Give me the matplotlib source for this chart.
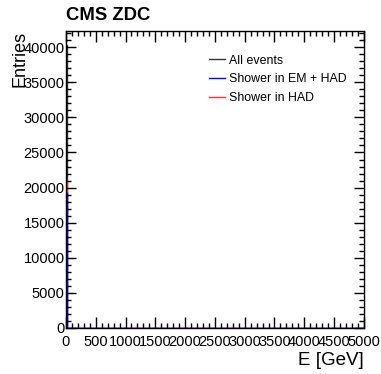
# Matplotlib (Visualization)
import matplotlib
matplotlib.use('Agg')
import matplotlib.pyplot as plt
# Numpy (Array computing)
import numpy as np
from matplotlib.ticker import MultipleLocator

# Histogram binning: 0 - 5000 GeV, 500 bins
n_bins = 500
e_min, e_max = 0.0, 5000.0
bin_edges = np.linspace(e_min, e_max, n_bins + 1)

# Entries of the first bins (rest are empty)
all_events_head = [40300, 30, 8]
em_had_head = [19200, 25, 6]
had_head = [21100, 5, 2]

def fill_bins(head):
    # pad the first bins with empty bins
    return np.array(head + [0] * (n_bins - len(head)), dtype=float)

all_events = fill_bins(all_events_head)
em_had = fill_bins(em_had_head)
had = fill_bins(had_head)

LABELS = ['All events', 'Shower in EM + HAD', 'Shower in HAD']
COLORS = ['#333333', '#0000ff', '#ff3333']

plt.rcParams['font.family'] = ['Liberation Sans', 'DejaVu Sans']

fig = plt.figure(figsize=(3.81, 3.74), dpi=100)
ax = fig.add_axes([0.173, 0.123, 0.782, 0.794])

# Histograms
ax.stairs(all_events, bin_edges, color=COLORS[0], linewidth=1.0)
ax.stairs(had, bin_edges, color=COLORS[2], linewidth=1.0)
ax.stairs(em_had, bin_edges, color=COLORS[1], linewidth=1.0)

# Axis limits
ax.set_xlim(e_min, e_max)
ax.set_ylim(0, 42300)

# Ticks (ROOT style: inside, all sides)
ax.xaxis.set_major_locator(MultipleLocator(500))
ax.xaxis.set_minor_locator(MultipleLocator(100))
ax.yaxis.set_major_locator(MultipleLocator(5000))
ax.yaxis.set_minor_locator(MultipleLocator(1000))
ax.tick_params(which='both', direction='in', top=True, right=True,
               labelsize=10.5, width=1.0, pad=1)
ax.tick_params(which='major', length=7)
ax.tick_params(which='minor', length=3.5)
ax.tick_params(axis='x', which='major', length=8, pad=5)
for s in ax.spines.values():
    s.set_linewidth(1.0)

# Labels
ax.set_xlabel('E [GeV]', fontsize=13.5, loc='right', labelpad=2)
ax.set_ylabel('Entries', fontsize=13, loc='top', labelpad=-4)

# Title
fig.text(0.173, 0.937, 'CMS ZDC', fontsize=13.3, fontweight='bold',
         ha='left', va='bottom')

# Legend
ax.legend([plt.Line2D([], [], color=COLORS[i], linewidth=1.0) for i in range(3)],
          LABELS, loc='upper left', bbox_to_anchor=(0.463, 0.937),
          frameon=False, fontsize=8.9, handlelength=1.3, handletextpad=0.3,
          labelspacing=0.55, borderaxespad=0)

fig.savefig('out.png', dpi=100)
